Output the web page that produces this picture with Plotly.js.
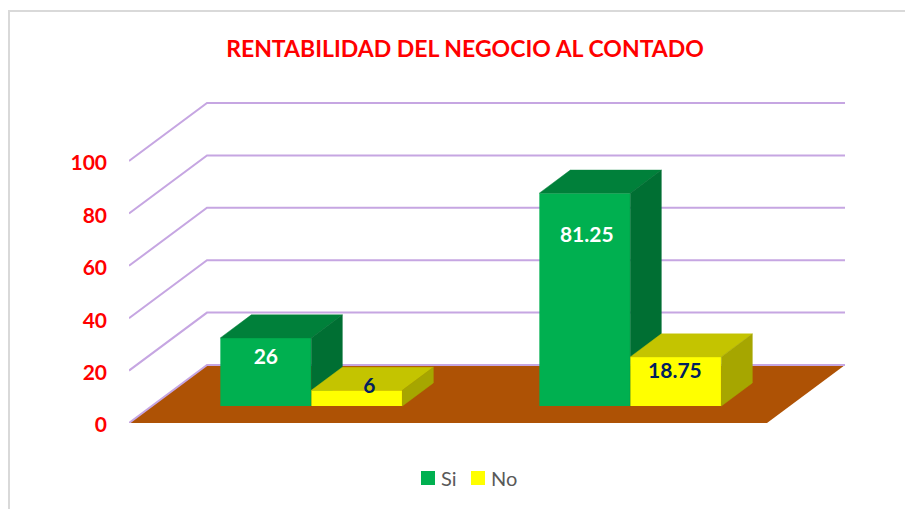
<!DOCTYPE html>
<html>
<head>
<meta charset="utf-8">
<script src="https://cdn.plot.ly/plotly-3.0.1.min.js"></script>
<style>html,body{margin:0;padding:0;background:#fff}</style>
</head>
<body>
<div id="chart" style="width:905px;height:509px"></div>
<script>
// Data
const categories = [0, 1];
const siValues = [26, 81.25];
const noValues = [6, 18.75];
const tickValues = [0, 20, 40, 60, 80, 100];
const chartTitle = 'RENTABILIDAD DEL NEGOCIO AL CONTADO';

// Oblique projection of the 3-D floor, in axis units
const depthX = 78 / 319;
const depthY = 58 / 2.62;
const barFrontDepth = 0.293;
const barBackDepth = 0.69;
const barWidth = 91 / 319;
const project = (x, v, d) => [x + d * depthX, v + d * depthY];

const xRange = [0, 2 + depthX];
const yRange = [0, 330 / 2.62];
const barBase = barFrontDepth * depthY;

function polyTrace(polys, color, axes) {
  const xs = [], ys = [];
  polys.forEach(p => {
    p.forEach(q => { xs.push(q[0]); ys.push(q[1]); });
    xs.push(p[0][0]); ys.push(p[0][1]);
    xs.push(null); ys.push(null);
  });
  return { type: 'scatter', mode: 'lines', x: xs, y: ys, fill: 'toself', fillcolor: color,
           line: { color: color, width: 0.5 }, hoverinfo: 'skip', showlegend: false,
           xaxis: axes[0], yaxis: axes[1] };
}

function seriesTraces(name, values, side, colors, axes, textColor, nudgeX, nudgeY) {
  const left = (c) => c + 0.5 + side * barWidth;
  const top = values.map((v, i) => {
    const l = left(categories[i]), r = l + barWidth;
    return [project(l, v + 0, barFrontDepth), project(r, v, barFrontDepth),
            project(r, v, barBackDepth), project(l, v, barBackDepth)];
  });
  const sideFaces = values.map((v, i) => {
    const r = left(categories[i]) + barWidth;
    return [project(r, 0, barFrontDepth), project(r, v, barFrontDepth),
            project(r, v, barBackDepth), project(r, 0, barBackDepth)];
  });
  return [
    { type: 'bar', name: name, x: categories.map(c => left(c) + barFrontDepth * depthX + barWidth / 2),
      y: values, base: values.map(() => barBase), width: barWidth,
      marker: { color: colors[0], line: { width: 0 } }, hoverinfo: 'skip',
      xaxis: axes[0], yaxis: axes[1] },
    polyTrace(top, colors[1], axes),
    polyTrace(sideFaces, colors[2], axes),
    { type: 'scatter', mode: 'text', showlegend: false, hoverinfo: 'skip',
      x: categories.map((c, i) => left(c) + barFrontDepth * depthX + barWidth / 2 + nudgeX[i]),
      y: values.map((v, i) => barBase + v + nudgeY[i]),
      text: values.map(String), textposition: 'middle center',
      textfont: { family: 'Lato, Carlito, sans-serif', size: 21, color: textColor, weight: 700 },
      xaxis: axes[0], yaxis: axes[1] }
  ];
}

const traces = [
  ...seriesTraces('Si', siValues, -1, ['#00B050', '#00803A', '#006F33'], ['x', 'y'], '#FFFFFF', [0, 0.006], [-7.9, -16.8]),
  ...seriesTraces('No', noValues, 0, ['#FFFF00', '#C4C400', '#A6A600'], ['x2', 'y2'], '#002060', [0.039, -0.003], [0.9, -6])
];

// Walls and floor
const floor = [project(0, 0, 0), project(2, 0, 0), project(2, 0, 1), project(0, 0, 1)];
const pathOf = (pts, close) => 'M' + pts.map(p => p[0] + ',' + p[1]).join('L') + (close ? 'Z' : '');
const shapes = [
  { type: 'path', layer: 'below', xref: 'x', yref: 'y', path: pathOf(floor, true),
    fillcolor: '#AE5205', line: { width: 0 } },
  ...tickValues.map(t => ({
    type: 'path', layer: 'below', xref: 'x', yref: 'y',
    path: pathOf([project(0, t, 0), project(0, t, 1), project(2, t, 1)], false),
    line: { color: '#C6A6E2', width: 2 }
  })),
  // Chart-area frame
  { type: 'path', layer: 'below', xref: 'paper', yref: 'paper',
    path: 'M' + (-120 / 716) + ',' + (-86 / 330) + 'L' + (-120 / 716) + ',' + (82 / 330 + 1) +
          'L' + (776 / 716) + ',' + (82 / 330 + 1),
    line: { color: '#D9D9D9', width: 2 } }
];

const layout = {
  width: 905, height: 509, autosize: false,
  margin: { l: 129, r: 60, t: 93, b: 86, pad: 0 },
  paper_bgcolor: '#FFFFFF', plot_bgcolor: 'rgba(0,0,0,0)',
  title: { text: chartTitle, x: 465 / 905, xanchor: 'center', y: 1 - 49 / 509, yanchor: 'middle',
           font: { family: 'Lato, Carlito, sans-serif', size: 23, color: '#FF0000', weight: 700 } },
  barmode: 'overlay',
  xaxis: { range: xRange, visible: false, fixedrange: true },
  xaxis2: { range: xRange, visible: false, overlaying: 'x', fixedrange: true },
  yaxis: { range: yRange, tickmode: 'array', tickvals: tickValues, ticktext: tickValues.map(String),
           showgrid: false, zeroline: false, showline: false, ticks: '', ticklabelstandoff: 21,
           ticklabelshift: 2,
           tickfont: { family: 'Lato, Carlito, sans-serif', size: 21, color: '#FF0000', weight: 700 },
           fixedrange: true },
  yaxis2: { range: yRange, visible: false, overlaying: 'y', fixedrange: true },
  legend: { orientation: 'h', x: (401 - 129) / 716, xanchor: 'left', y: -55 / 330, yanchor: 'middle',
            bgcolor: 'rgba(0,0,0,0)', entrywidth: 30, itemclick: false, itemdoubleclick: false,
            font: { family: 'Lato, Carlito, sans-serif', size: 20, color: '#595959' } },
  shapes: shapes
};

Plotly.newPlot('chart', traces, layout, { displayModeBar: false, staticPlot: true }).then(() => {
  // Larger legend keys, closer to their labels; entries closer together
  document.querySelectorAll('#chart .legend .legendpoints').forEach(g => {
    g.setAttribute('transform', 'translate(27,0) scale(1.167) translate(-20,0)');
  });
  const entries = document.querySelectorAll('#chart .legend .traces');
  if (entries[1]) {
    const m = /translate\(([-\d.]+),\s*([-\d.]+)\)/.exec(entries[1].getAttribute('transform'));
    if (m) entries[1].setAttribute('transform', 'translate(' + (parseFloat(m[1]) - 25) + ',' + m[2] + ')');
  }
});
</script>
</body>
</html>
